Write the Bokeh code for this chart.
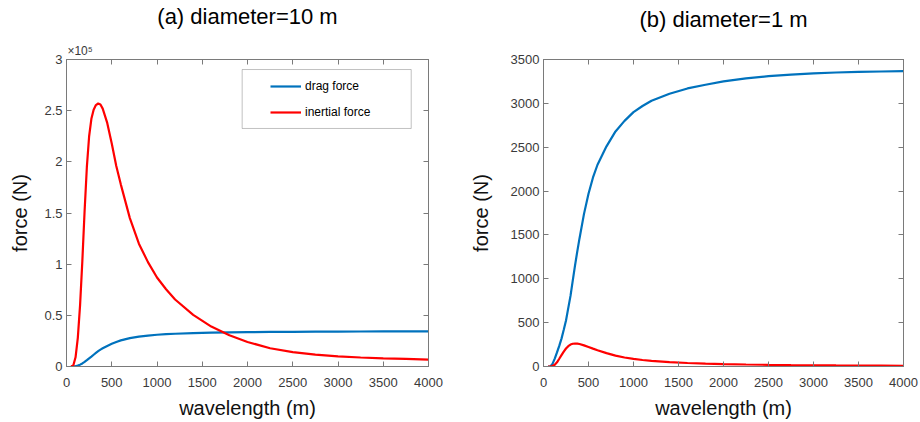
from bokeh.plotting import figure
from bokeh.layouts import row
from bokeh.models import (Range1d, FixedTicker, LinearAxis, Legend,
                          LegendItem, BoxAnnotation)
from bokeh.embed import file_html
from bokeh.resources import INLINE

# ---------------- data ----------------
wavelength = [50, 75, 100, 125, 150, 175, 200, 225, 250, 275, 300, 325, 350,
              375, 400, 450, 500, 550, 600, 700, 800, 900, 1000, 1100, 1200,
              1400, 1600, 1800, 2000, 2250, 2500, 2750, 3000, 3250, 3500,
              3750, 4000]

# (a) diameter = 10 m, force in units of 1e5 N
drag_10m = [0.0, 0.0, 0.003, 0.009, 0.018, 0.030, 0.045, 0.062, 0.080, 0.097,
            0.115, 0.133, 0.150, 0.165, 0.178, 0.201, 0.222, 0.240, 0.255,
            0.277, 0.292, 0.302, 0.310, 0.316, 0.320, 0.327, 0.331, 0.334,
            0.336, 0.338, 0.339, 0.340, 0.341, 0.342, 0.343, 0.343, 0.344]
inertial_10m = [0.0, 0.01, 0.09, 0.28, 0.60, 1.03, 1.52, 1.95, 2.25, 2.42,
                2.51, 2.555, 2.57, 2.56, 2.52, 2.38, 2.18, 1.96, 1.78, 1.45,
                1.20, 1.02, 0.87, 0.755, 0.655, 0.505, 0.39, 0.305, 0.24,
                0.178, 0.14, 0.116, 0.099, 0.088, 0.080, 0.074, 0.068]

# (b) diameter = 1 m, force in N
drag_1m = [0, 0, 30, 90, 160, 235, 318, 418, 525, 665, 805, 980, 1150, 1310,
           1460, 1740, 1970, 2155, 2300, 2510, 2680, 2800, 2900, 2970, 3030,
           3110, 3170, 3212, 3250, 3285, 3310, 3328, 3342, 3352, 3358, 3363,
           3367]
inertial_1m = [0, 0, 5, 20, 48, 88, 130, 170, 205, 232, 250, 259, 262, 261,
               256, 241, 223, 204, 186, 152, 124, 103, 86, 74, 64, 50, 40, 33,
               28, 23, 19, 16, 14, 12, 10.5, 9.5, 8.5]

x_ticks = [0, 500, 1000, 1500, 2000, 2500, 3000, 3500, 4000]
y_ticks_a = [0, 0.5, 1, 1.5, 2, 2.5, 3]
y_tick_labels_a = ["0", "0.5", "1", "1.5", "2", "2.5", "3"]
y_ticks_b = [0, 500, 1000, 1500, 2000, 2500, 3000, 3500]

titles = ["(a) diameter=10 m", "(b) diameter=1 m"]
exponent_label = "\u00d710\u2075"
exponent_anchor = 150      # wavelength at which the exponent note is centred
series_labels = ["drag force", "inertial force"]

# ---------------- style ----------------
FONT = "Liberation Sans"
AX = "#7a7a7a"
TICK_TXT = "#3a3a3a"
BLUE = "#0072BD"
RED = "#FF0000"
LW = 2.2


def make_fig(width, bl, br, ymax, yticks, ylabel_standoff, title,
             top_ticks, top_overrides, top_label_standoff, title_standoff):
    p = figure(width=width, height=422, output_backend="svg",
               toolbar_location=None, x_range=Range1d(0, 4000),
               y_range=Range1d(0, ymax), min_border_left=bl,
               min_border_right=br, min_border_top=59, min_border_bottom=56)
    p.grid.visible = False
    p.outline_line_color = AX
    p.background_fill_color = "white"
    p.border_fill_color = "white"
    for ax in p.xaxis + p.yaxis:
        ax.major_tick_in = 5
        ax.major_tick_out = 0
        ax.minor_tick_in = 0
        ax.minor_tick_out = 0
        ax.axis_line_color = AX
        ax.major_tick_line_color = AX
        ax.major_label_text_font = FONT
        ax.major_label_text_font_size = "13px"
        ax.major_label_text_color = TICK_TXT
        ax.axis_label_text_font = FONT
        ax.axis_label_text_font_size = "20px"
        ax.axis_label_text_font_style = "normal"
        ax.axis_label_text_color = "#111111"
    p.xaxis.ticker = FixedTicker(ticks=x_ticks)
    p.yaxis.ticker = FixedTicker(ticks=yticks)
    p.xaxis.axis_label = "wavelength (m)"
    p.yaxis.axis_label = "force (N)"
    p.xaxis.major_label_standoff = 11
    p.xaxis.axis_label_standoff = 7
    p.yaxis.major_label_standoff = 4
    p.yaxis.axis_label_standoff = ylabel_standoff

    # top side: mirrored inward ticks, optional exponent note, panel title
    top = LinearAxis(ticker=FixedTicker(ticks=top_ticks, minor_ticks=x_ticks),
                     major_tick_in=0, major_tick_out=0,
                     minor_tick_in=5, minor_tick_out=0,
                     axis_line_color=AX, minor_tick_line_color=AX,
                     major_label_standoff=top_label_standoff,
                     major_label_overrides=top_overrides,
                     major_label_text_font=FONT,
                     major_label_text_font_size="12px",
                     major_label_text_color=TICK_TXT,
                     axis_label=title, axis_label_standoff=title_standoff,
                     axis_label_text_font=FONT,
                     axis_label_text_font_size="22px",
                     axis_label_text_font_style="normal",
                     axis_label_text_color="#000000")
    p.add_layout(top, "above")
    # right side: mirrored inward ticks
    right = LinearAxis(ticker=FixedTicker(ticks=[], minor_ticks=yticks),
                       major_tick_in=0, major_tick_out=0,
                       minor_tick_in=5, minor_tick_out=0,
                       axis_line_color=AX, minor_tick_line_color=AX,
                       major_label_standoff=0)
    p.add_layout(right, "right")
    return p


# ---------------- (a) ----------------
pa = make_fig(460, 66, 32, 3, y_ticks_a, 10, titles[0],
              [exponent_anchor], {exponent_anchor: exponent_label}, 2, 12)
pa.yaxis[0].major_label_overrides = {t: s for t, s in zip(y_ticks_a, y_tick_labels_a)}
ra1 = pa.line(wavelength, drag_10m, line_width=LW, color=BLUE)
ra2 = pa.line(wavelength, inertial_10m, line_width=LW, color=RED)

# legend frame and legend
pa.add_layout(BoxAnnotation(left=1941, right=3809, bottom=2.326, top=2.902,
                            fill_color="white", fill_alpha=1,
                            line_color="#333333", line_width=1, level="overlay"))
leg = Legend(items=[LegendItem(label=series_labels[0], renderers=[ra1]),
                    LegendItem(label=series_labels[1], renderers=[ra2])],
             location=(204, 244), padding=0, margin=0, spacing=6,
             glyph_width=31, glyph_height=20, label_height=20,
             label_standoff=4, label_text_font=FONT,
             label_text_font_size="12px", label_text_color="#000000",
             border_line_alpha=0, background_fill_alpha=0)
pa.add_layout(leg)

# ---------------- (b) ----------------
pb = make_fig(460, 83, 17, 3500, y_ticks_b, 16, titles[1], [], {}, 0, 28)
pb.line(wavelength, drag_1m, line_width=LW, color=BLUE)
pb.line(wavelength, inertial_1m, line_width=LW, color=RED)

layout = row(pa, pb)
open("out.html", "w").write(file_html(layout, INLINE))
